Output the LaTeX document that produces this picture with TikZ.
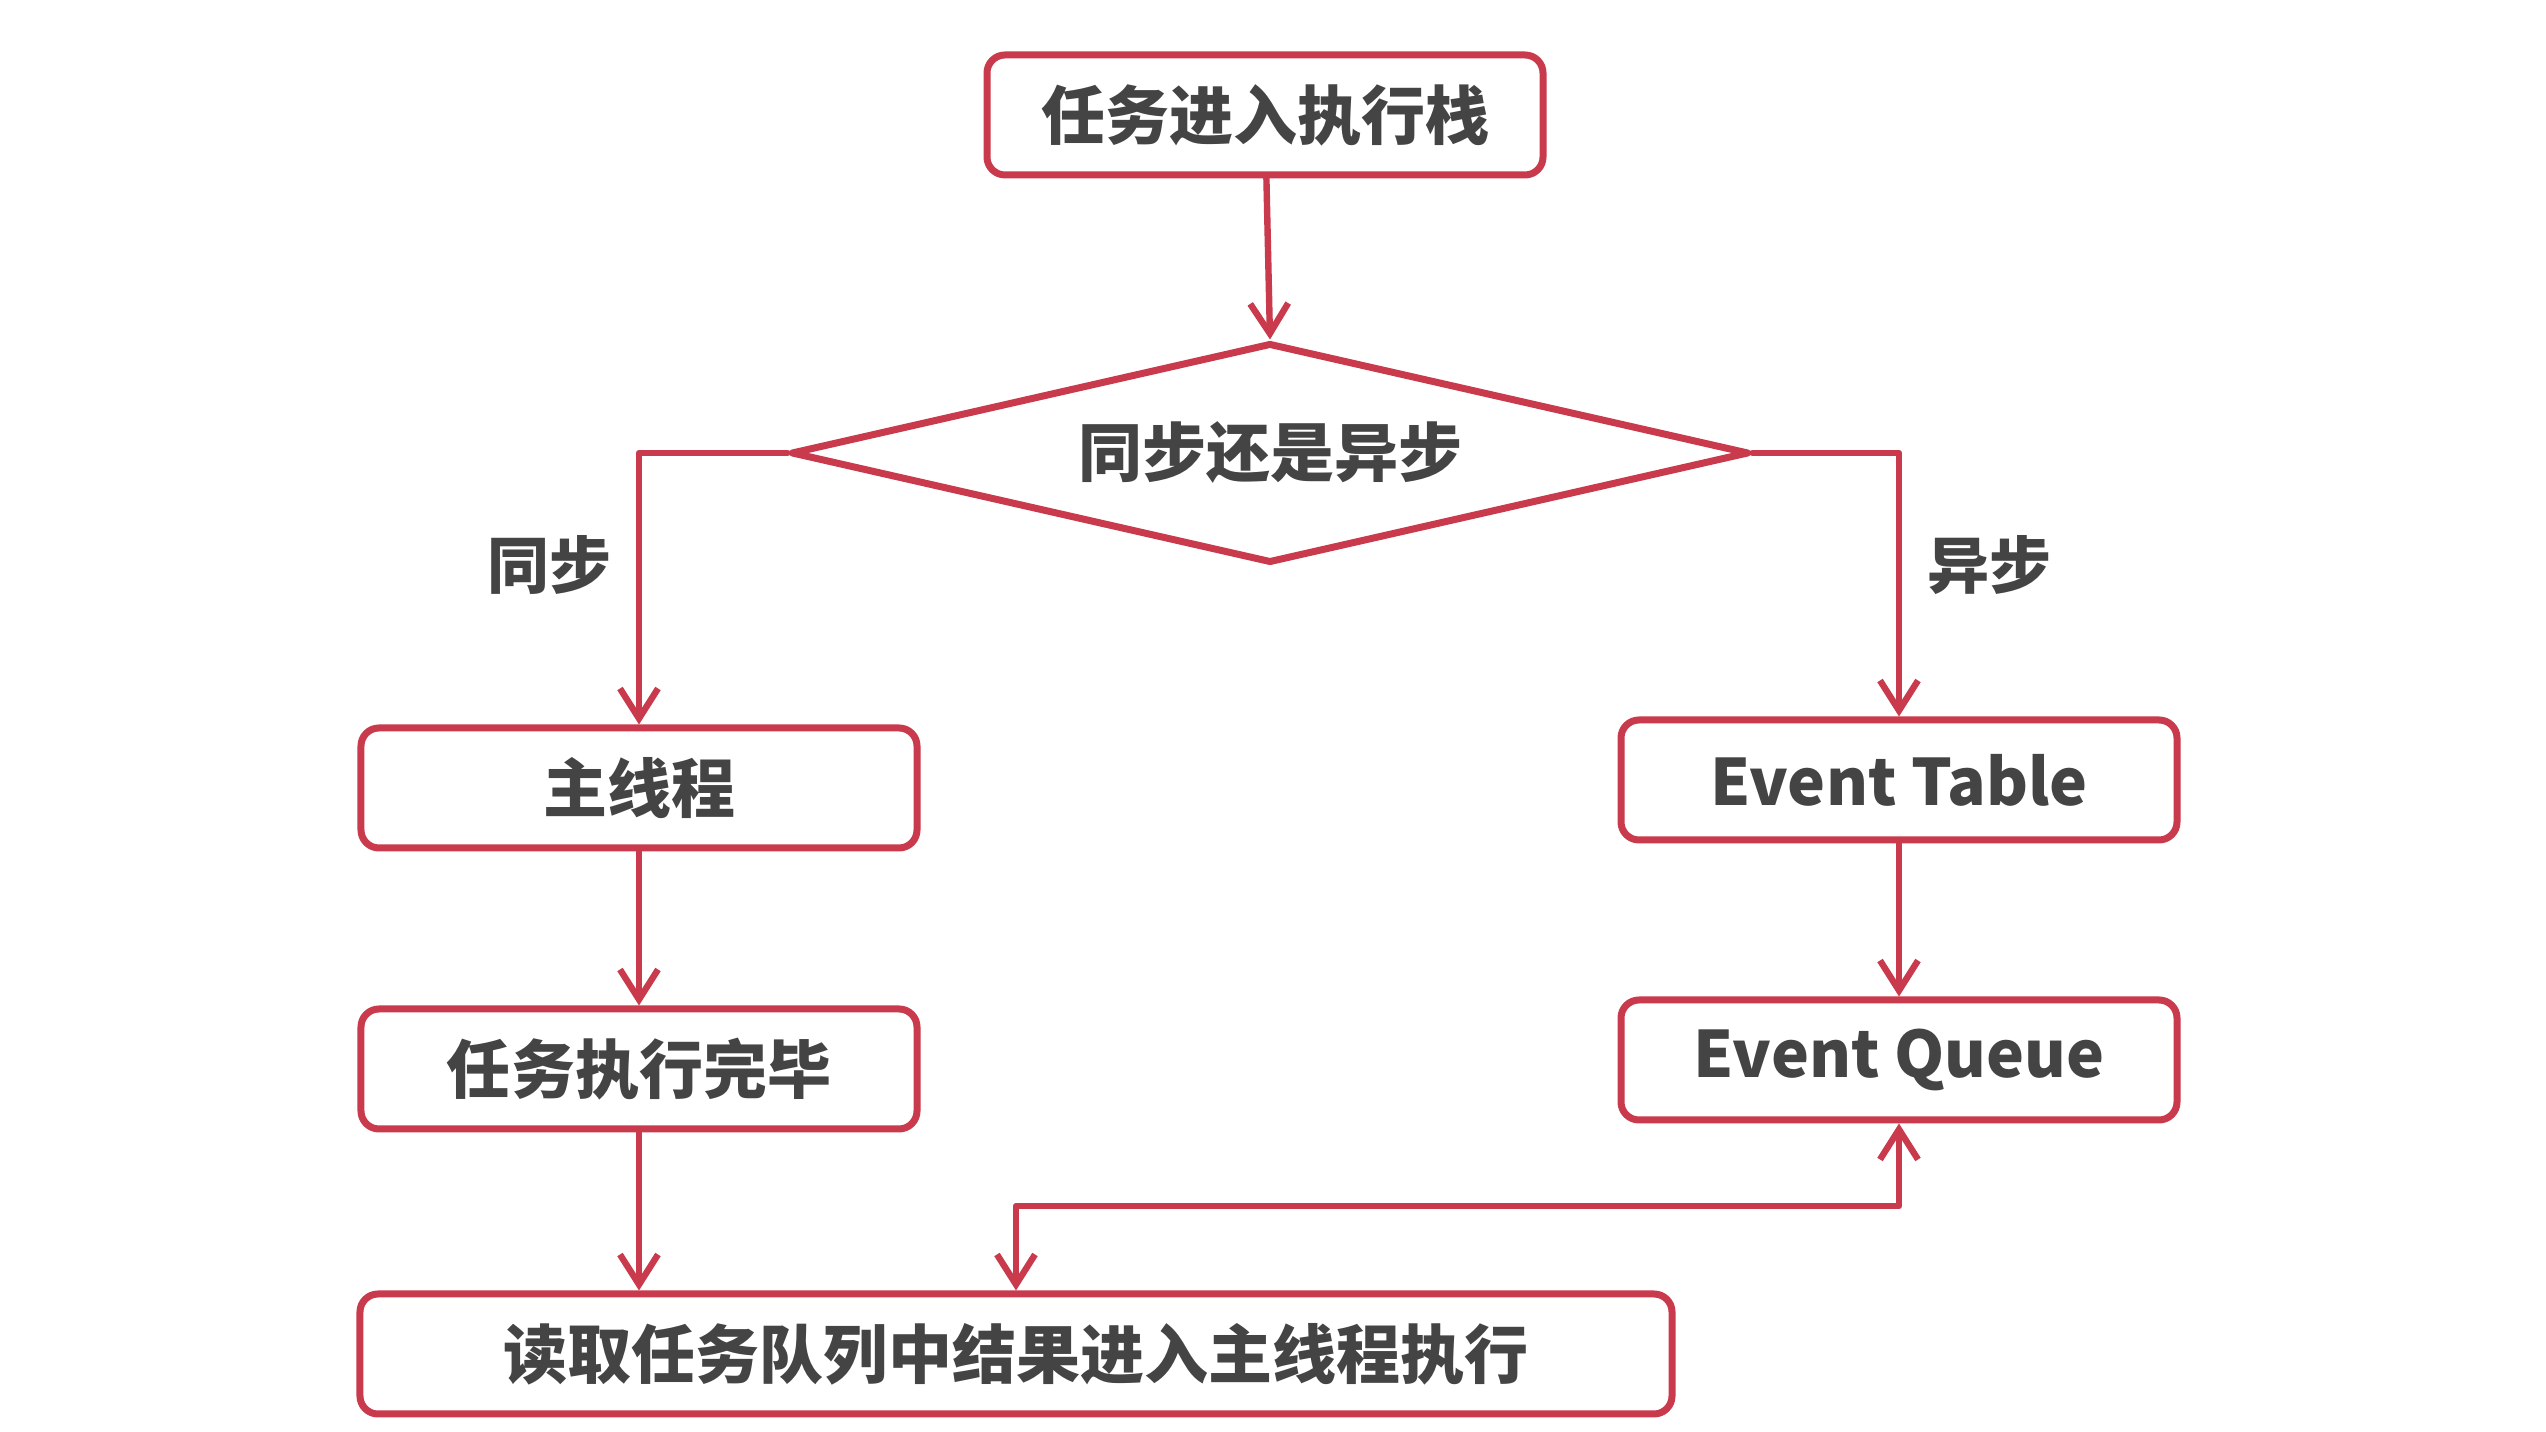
\documentclass[tikz,border=0pt]{standalone}
\usepackage{fontspec}
\newfontfamily\cjk{Noto Sans CJK SC}
\usetikzlibrary{arrows.meta,shapes.geometric}
\definecolor{FlowRed}{RGB}{200,58,76}
\definecolor{FlowText}{RGB}{68,68,68}

\begin{document}
\begin{tikzpicture}[x=0.5bp,y=0.5bp,line cap=round,line join=round]
  \path[use as bounding box] (0,0) rectangle (2546,1432);
  \fill[white] (0,0) rectangle (2546,1432);

  \tikzset{
    stepbox/.style={draw=FlowRed,line width=3.5bp,fill=white,rounded corners=9bp,
      minimum width=278bp,minimum height=60bp,inner sep=0pt,text=FlowText,
      font=\cjk\bfseries\fontsize{32bp}{32bp}\selectfont},
    choice/.style={draw=FlowRed,line width=3.5bp,fill=white,shape=diamond,aspect=4.35,
      minimum width=479bp,minimum height=110bp,inner sep=0pt,text=FlowText,
      font=\cjk\bfseries\fontsize{32bp}{32bp}\selectfont},
    branch/.style={inner sep=0pt,text=FlowText,
      font=\cjk\bfseries\fontsize{31bp}{31bp}\selectfont},
    link/.style={draw=FlowRed,line width=3.2bp,
      -{Straight Barb[length=15bp,width=19bp]}},
  }

  % entry and decision
  \node[stepbox] (task) at (1265,1317) {任务进入执行栈};
  \node[choice] (judge) at (1270,979) {同步还是异步};

  % sync branch
  \node[stepbox] (main) at (639,644) {主线程};
  \node[stepbox] (done) at (639,363) {任务执行完毕};
  \node[branch] (synclabel) at (549,867) {同步};

  % async branch
  \node[stepbox] (table) at (1899,652) {Event Table};
  \node[stepbox] (queue) at (1899,372) {Event Queue};
  \node[branch] (asynclabel) at (1989,867) {异步};

  % result
  \node[stepbox,minimum width=656bp] (read) at (1016,78) {读取任务队列中结果进入主线程执行};
  \coordinate (hop) at (1016,226);

  \draw[link] (task) -- (judge.north);
  \draw[link] (judge.west) -| (main.north);
  \draw[link] (judge.east) -| (table.north);
  \draw[link] (main) -- (done);
  \draw[link] (done.south) -- (done.south |- read.north);
  \draw[link] (table) -- (queue);
  \draw[link,{Straight Barb[length=15bp,width=19bp]}-{Straight Barb[length=15bp,width=19bp]}]
    (read.north) -- (hop) -| (queue.south);
\end{tikzpicture}
\end{document}
